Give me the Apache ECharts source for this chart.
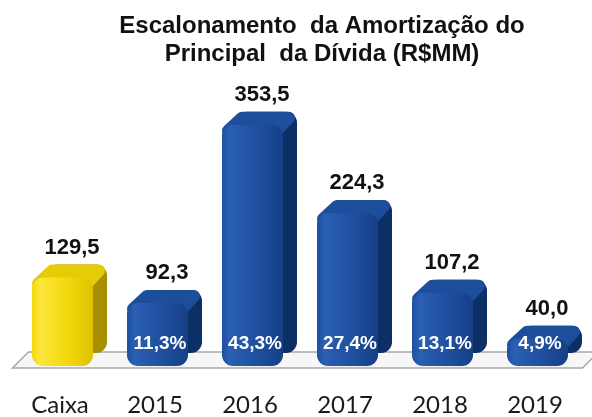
<!DOCTYPE html>
<html>
<head>
<meta charset="utf-8">
<script src="https://cdn.jsdelivr.net/npm/echarts@6/dist/echarts.min.js"></script>
<style>
  html, body { margin: 0; padding: 0; background: #fff; }
  #chart { width: 592px; height: 417px; }
</style>
</head>
<body>
<div id="chart"></div>
<script>
  const categories = ['Caixa', '2015', '2016', '2017', '2018', '2019'];
  const values = [129.5, 92.3, 353.5, 224.3, 107.2, 40.0];
  const shares = [null, 11.3, 43.3, 27.4, 13.1, 4.9];

  const fmt = (v, d) => v.toFixed(d).replace('.', ',');

  const blue = { front: ['#2a5fb2', '#1e4f9f', '#163f86'], side: '#0c2f66', top: '#1d4e9c' };
  const yellow = { front: ['#fbe63a', '#f3d80c', '#dcc200'], side: '#a88f00', top: '#e6cc06' };

  function renderFloor(params, api) {
    let bw = api.size([1, 0])[0];
    let first = api.coord([0, 0]);
    let last = api.coord([categories.length - 1, 0]);
    let x0 = first[0] - bw / 2, x1 = last[0] + bw / 2, y = first[1] + 2;
    return {
      type: 'polygon',
      shape: { points: [[x0, y], [x1, y], [x1 + 16, y - 16], [x0 + 16, y - 16]] },
      style: { fill: '#f7f7f7', stroke: '#a8a8a8', lineWidth: 1.5 }
    };
  }

  function renderBar(params, api) {
    let i = api.value(0);
    let v = api.value(1);
    let top = api.coord([i, v]);
    let base = api.coord([i, 0]);
    let cx = top[0];
    let w = 61, dx = 14, dy = 13, r = 11;
    let x = cx - 28;
    let h = base[1] - top[1];
    let c = i === 0 ? yellow : blue;
    let t = top[1];
    let children = [
      {
        type: 'rect',
        shape: { x: x + dx, y: t - dy, width: w, height: h, r: r },
        style: { fill: c.side }
      },
      {
        type: 'polygon',
        shape: { points: [[x + 6, t + 6], [x + dx + 6, t - dy + 6], [x + w + dx - 8, t - dy + 6], [x + w - 6, t + 6]] },
        style: { fill: c.top, stroke: c.top, lineWidth: 12, lineJoin: 'round' }
      },
      {
        type: 'rect',
        shape: { x: x, y: t, width: w, height: h, r: r },
        style: {
          fill: new echarts.graphic.LinearGradient(0, 0, 1, 0, [
            { offset: 0, color: c.front[1] },
            { offset: 0.12, color: c.front[0] },
            { offset: 0.6, color: c.front[1] },
            { offset: 1, color: c.front[2] }
          ])
        }
      },
      {
        type: 'text',
        style: {
          text: fmt(v, 1), x: cx + 12, y: t - 30,
          align: 'center', verticalAlign: 'middle',
          font: 'bold 22px "Liberation Sans", Arial, sans-serif', fill: '#111'
        }
      }
    ];
    let s = shares[i];
    if (s != null) {
      children.push({
        type: 'text',
        style: {
          text: fmt(s, 1) + '%', x: cx + 5, y: base[1] - 22,
          align: 'center', verticalAlign: 'middle',
          font: 'bold 19px "Liberation Sans", Arial, sans-serif', fill: '#fff'
        }
      });
    }
    return { type: 'group', children: children };
  }

  let chart = echarts.init(document.getElementById('chart'));
  let option = {
    animation: false,
    title: {
      text: 'Escalonamento  da Amortização do\nPrincipal  da Dívida (R$MM)',
      left: 317,
      textAlign: 'center',
      top: 7,
      textStyle: {
        fontFamily: '"Liberation Sans", Arial, sans-serif',
        fontWeight: 'bold',
        fontSize: 24,
        lineHeight: 28,
        color: '#111'
      }
    },
    grid: { left: 12.5, right: 9.5, top: 93, bottom: 50 },
    xAxis: {
      type: 'category',
      data: categories,
      axisLine: { show: false },
      axisTick: { show: false },
      axisLabel: {
        margin: 27,
        fontFamily: 'Lato, sans-serif',
        fontSize: 24,
        color: '#1a1a1a'
      }
    },
    yAxis: { type: 'value', min: 0, max: 400, show: false },
    series: [
      { type: 'custom', renderItem: renderFloor, data: [[0, 0]], z: 1, silent: true },
      {
        type: 'custom',
        renderItem: renderBar,
        data: values.map((v, i) => [i, v]),
        encode: { x: 0, y: 1 },
        z: 2
      }
    ]
  };
  chart.setOption(option);
</script>
</body>
</html>
